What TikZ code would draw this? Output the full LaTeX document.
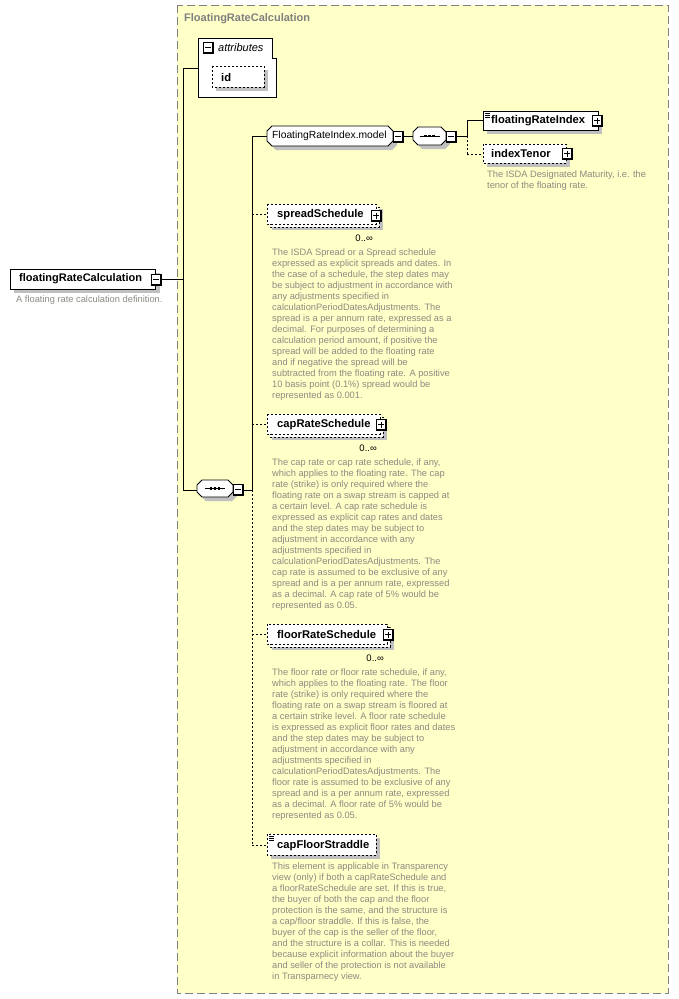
\documentclass[tikz,border=0pt]{standalone}
\usepackage{fontspec}
\setmainfont{Liberation Sans}
\definecolor{bgyellow}{HTML}{FFFFC8}
\definecolor{framegray}{HTML}{808080}
\definecolor{shadowgray}{HTML}{C0C0C0}
\definecolor{descgray}{HTML}{8C8A80}
\newcommand\octpath[5]{({#1+#5},{#2}) -- ({#3-#5},{#2}) -- ({#3},{#2+#5}) -- ({#3},{#4-#5}) -- ({#3-#5},{#4}) -- ({#1+#5},{#4}) -- ({#1},{#4-#5}) -- ({#1},{#2+#5}) -- cycle}
\newcommand\xsicon[3]{% x y sign(0 minus,1 plus)
  \fill[white] (#1,#2) rectangle ({#1+10},{#2+11});
  \draw[line width=0.8pt] (#1,#2) rectangle ({#1+10},{#2+11});
  \draw[line width=1.6pt] ({#1+10},{#2}) -- ({#1+10},{#2+11}) -- ({#1},{#2+11});
  \draw[line width=0.8pt] ({#1+2},{#2+5.5}) -- ({#1+8},{#2+5.5});
  \ifnum#3=1 \draw[line width=0.8pt] ({#1+5},{#2+2.5}) -- ({#1+5},{#2+8.5});\fi}
\newcommand\seqsym[2]{% center x, center y
  \draw[line width=0.8pt] ({#1-10},{#2}) -- ({#1+10},{#2});
  \foreach \dd in {-4,0,4} \fill ({#1+\dd-1.3},{#2-1.3}) rectangle ({#1+\dd+1.3},{#2+1.3});}
\newcommand\simpleicon[2]{%
  \foreach \dd in {0,2,4} \draw[line width=0.5pt] ({#1},{#2+\dd}) -- ({#1+5},{#2+\dd});}
\tikzset{
  elembox/.style={draw=black, fill=white, line width=0.8pt},
  optbox/.style={elembox, dash pattern=on 2pt off 2pt},
  shadowbox/.style={fill=shadowgray, draw=none},
  conn/.style={draw=black, line width=0.8pt},
  optconn/.style={conn, dash pattern=on 2pt off 2pt},
  lbl/.style={font=\fontsize{11.2}{13}\selectfont\bfseries, inner sep=0pt, anchor=west},
  desc/.style={font=\fontsize{9.3}{11}\selectfont, text=descgray, inner sep=0pt, anchor=north west, align=left},
  occ/.style={font=\fontsize{9.5}{11}\selectfont, inner sep=0pt, anchor=east}
}
\begin{document}
\begin{tikzpicture}[x=1pt,y=-1pt]
\useasboundingbox (0,0) rectangle (679,999);
% frame
\draw[fill=bgyellow, draw=framegray, line width=0.9pt, dash pattern=on 8pt off 4pt] (177,5) rectangle (668,993);
\node[lbl, font=\fontsize{11}{13}\selectfont\bfseries, text=framegray] (title) at (184,19) {FloatingRateCalculation};

% main element
\fill[shadowgray] (14,273) rectangle (160,293);
\draw[elembox] (10,269) rectangle (155,289);
\node[lbl, font=\fontsize{11}{13}\selectfont\bfseries] (mainlbl) at (19,279) {floatingRateCalculation};
\xsicon{151}{274}{0}
\coordinate (mainR) at (161,279);
\node[desc] (maindesc) at (16,296) {A floating rate calculation definition.};

% attributes
\draw[elembox] (198,38) -- (272,38) -- (272,58) -- (276,58) -- (276,97) -- (198,97) -- cycle;
\coordinate (attL) at (198,68);
\xsicon{203}{42}{0}
\node[lbl, font=\fontsize{11}{13}\selectfont\itshape] (attlbl) at (218,48) {attributes};
\fill[shadowgray] (216,70) rectangle (268,91);
\draw[optbox] (212,66) rectangle (264,87);
\node[lbl] (idlbl) at (221,77) {id};

% trunk from main
\coordinate (j1) at (183,279);
\coordinate (j1top) at (183,68);
\coordinate (j1bot) at (183,490);
\draw[conn] (mainR) -- (j1);
\draw[conn] (j1top) -- (j1bot);
\draw[conn] (j1top) -- (attL);

% sequence 1
\fill[shadowgray] \octpath{201}{484}{237}{501}{5};
\draw[elembox] \octpath{197}{480}{233}{497}{5};
\seqsym{215}{488.5}
\xsicon{233}{484}{0}
\coordinate (seq1L) at (197,490);
\coordinate (seq1R) at (244,490);
\draw[conn] (j1bot) -- (seq1L);
\coordinate (j2top) at (252,136);
\coordinate (j2mid) at (252,490);
\coordinate (j2bot) at (252,845);
\draw[conn] (seq1R) -- (j2mid);
\draw[conn] (j2top) -- (j2mid);
\draw[optconn] (j2mid) -- (j2bot);

% FloatingRateIndex.model
\fill[shadowgray] \octpath{271}{130}{397}{150}{5};
\draw[elembox] \octpath{267}{126}{393}{146}{5};
\node[lbl, font=\fontsize{10.3}{12}\selectfont] (modellbl) at (272,136) {FloatingRateIndex.model};
\xsicon{393}{131}{0}
\coordinate (modelL) at (267,136);
\coordinate (modelR) at (404,136);
\draw[conn] (j2top) -- (modelL);

% sequence 2
\fill[shadowgray] \octpath{417}{131}{450}{149}{5};
\draw[elembox] \octpath{413}{127}{446}{145}{5};
\seqsym{429.5}{136}
\xsicon{446}{131}{0}
\coordinate (seq2L) at (413,136);
\coordinate (seq2R) at (457,136);
\draw[conn] (modelR) -- (seq2L);
\coordinate (j3) at (467,136);
\coordinate (j3top) at (467,120);
\coordinate (j3bot) at (467,154);
\draw[conn] (seq2R) -- (j3);
\draw[conn] (j3) -- (j3top);
\draw[optconn] (j3) -- (j3bot);

% floatingRateIndex
\fill[shadowgray] (487,115) rectangle (602,134);
\draw[elembox] (483,111) rectangle (598,130);
\simpleicon{485}{113}
\node[lbl] (frilbl) at (491,121) {floatingRateIndex};
\xsicon{592}{115}{1}
\coordinate (friL) at (483,120);
\draw[conn] (j3top) -- (friL);

% indexTenor
\fill[shadowgray] (487,148) rectangle (570,167);
\draw[optbox] (483,144) rectangle (566,163);
\node[lbl] (itlbl) at (491,153.5) {indexTenor};
\xsicon{562}{148}{1}
\coordinate (itL) at (483,154);
\draw[optconn] (j3bot) -- (itL);
\node[desc] (itdesc) at (487,170.5) {The ISDA Designated Maturity, i.e. the\\tenor of the floating rate.};

% spreadSchedule
\fill[shadowgray] (272,209) rectangle (383,230);
\draw[optbox] (270,207) rectangle (379,227);
\draw[optbox] (267,204) rectangle (376,224);
\node[lbl] (splbl) at (277,214.5) {spreadSchedule};
\xsicon{371}{210}{1}
\node[occ] (spocc) at (373,238) {0..∞};
\coordinate (spL) at (267,214);
\coordinate (j2sp) at (252,214);
\draw[optconn] (j2sp) -- (spL);
\node[desc] (spdesc) at (272,248.5) {The ISDA Spread or a Spread schedule\\
expressed as explicit spreads and dates. In\\
the case of a schedule, the step dates may\\
be subject to adjustment in accordance with\\
any adjustments specified in\\
calculationPeriodDatesAdjustments. The\\
spread is a per annum rate, expressed as a\\
decimal. For purposes of determining a\\
calculation period amount, if positive the\\
spread will be added to the floating rate\\
and if negative the spread will be\\
subtracted from the floating rate. A positive\\
10 basis point (0.1\%) spread would be\\
represented as 0.001.};

% capRateSchedule
\fill[shadowgray] (272,419) rectangle (387,440);
\draw[optbox] (270,417) rectangle (383,437);
\draw[optbox] (267,414) rectangle (380,434);
\node[lbl] (caplbl) at (277,424.5) {capRateSchedule};
\xsicon{376}{419}{1}
\node[occ] (capocc) at (377,448) {0..∞};
\coordinate (capL) at (267,424);
\coordinate (j2cap) at (252,424);
\draw[optconn] (j2cap) -- (capL);
\node[desc] (capdesc) at (272,458.5) {The cap rate or cap rate schedule, if any,\\
which applies to the floating rate. The cap\\
rate (strike) is only required where the\\
floating rate on a swap stream is capped at\\
a certain level. A cap rate schedule is\\
expressed as explicit cap rates and dates\\
and the step dates may be subject to\\
adjustment in accordance with any\\
adjustments specified in\\
calculationPeriodDatesAdjustments. The\\
cap rate is assumed to be exclusive of any\\
spread and is a per annum rate, expressed\\
as a decimal. A cap rate of 5\% would be\\
represented as 0.05.};

% floorRateSchedule
\fill[shadowgray] (272,629) rectangle (394,650);
\draw[optbox] (270,627) rectangle (390,647);
\draw[optbox] (267,624) rectangle (387,644);
\node[lbl] (floorlbl) at (277,634.5) {floorRateSchedule};
\xsicon{383}{629}{1}
\node[occ] (flooocc) at (384,658) {0..∞};
\coordinate (floorL) at (267,634);
\coordinate (j2floor) at (252,634);
\draw[optconn] (j2floor) -- (floorL);
\node[desc] (floordesc) at (272,668.5) {The floor rate or floor rate schedule, if any,\\
which applies to the floating rate. The floor\\
rate (strike) is only required where the\\
floating rate on a swap stream is floored at\\
a certain strike level. A floor rate schedule\\
is expressed as explicit floor rates and dates\\
and the step dates may be subject to\\
adjustment in accordance with any\\
adjustments specified in\\
calculationPeriodDatesAdjustments. The\\
floor rate is assumed to be exclusive of any\\
spread and is a per annum rate, expressed\\
as a decimal. A floor rate of 5\% would be\\
represented as 0.05.};

% capFloorStraddle
\fill[shadowgray] (271,838) rectangle (380,859);
\draw[optbox] (267,834) rectangle (376,855);
\simpleicon{269}{836}
\node[lbl] (cfslbl) at (277,845.5) {capFloorStraddle};
\coordinate (cfsL) at (267,845);
\draw[optconn] (j2bot) -- (cfsL);
\node[desc] (cfsdesc) at (272,862.5) {This element is applicable in Transparency\\
view (only) if both a capRateSchedule and\\
a floorRateSchedule are set. If this is true,\\
the buyer of both the cap and the floor\\
protection is the same, and the structure is\\
a cap/floor straddle. If this is false, the\\
buyer of the cap is the seller of the floor,\\
and the structure is a collar. This is needed\\
because explicit information about the buyer\\
and seller of the protection is not available\\
in Transparnecy view.};
\end{tikzpicture}
\end{document}
